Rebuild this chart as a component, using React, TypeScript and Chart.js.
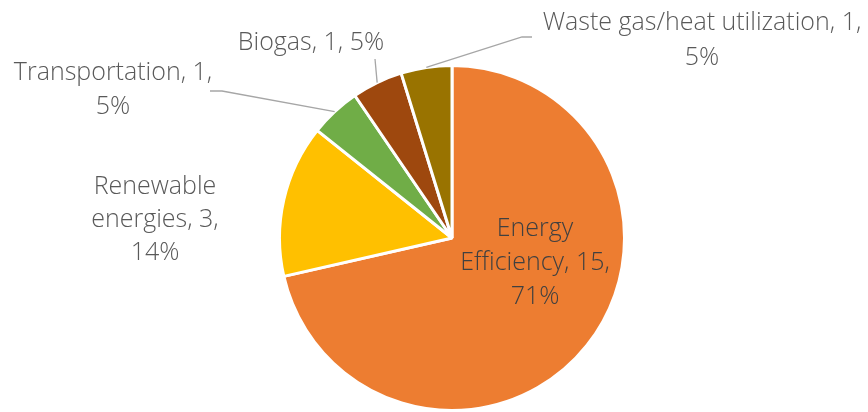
import React, { useEffect, useRef } from "react";
import { Chart, registerables } from "chart.js";

Chart.register(...registerables);

const categories = [
  "Energy Efficiency",
  "Renewable energies",
  "Transportation",
  "Biogas",
  "Waste gas/heat utilization",
];
const values = [15, 3, 1, 1, 1];
const percentLabels = ["71%", "14%", "5%", "5%", "5%"];
const colors = ["#ED7D31", "#FFC000", "#70AD47", "#9E480E", "#997300"];

// label text lines per slice
const labelLines = [
  ["Energy", "Efficiency, 15,", "71%"],
  ["Renewable", "energies, 3,", "14%"],
  ["Transportation, 1,", "5%"],
  ["Biogas, 1, 5%"],
  ["Waste gas/heat utilization, 1,", "5%"],
];

// label layout (center x, first line middle y, line gap, leader start points)
const labelLayout = [
  { x: 535, y: 229, gap: 34, color: "#404040", leader: null },
  { x: 155, y: 187, gap: 33, color: "#595959", leader: null },
  { x: 113, y: 73, gap: 34, color: "#595959", leader: [[210, 91], [222, 91]] },
  { x: 311, y: 43, gap: 33, color: "#595959", leader: [[375, 59]] },
  { x: 702, y: 23, gap: 35, color: "#595959", leader: [[532, 37], [522, 37]] },
];

const labelPlugin = {
  id: "sliceLabels",
  afterDatasetsDraw(chart: any) {
    const ctx = chart.ctx;
    const meta = chart.getDatasetMeta(0);
    ctx.save();
    meta.data.forEach((arc: any, i: number) => {
      const lay = labelLayout[i];
      if (lay.leader) {
        const mid = (arc.startAngle + arc.endAngle) / 2;
        const ex = arc.x + Math.cos(mid) * arc.outerRadius;
        const ey = arc.y + Math.sin(mid) * arc.outerRadius;
        ctx.beginPath();
        ctx.strokeStyle = "#A6A6A6";
        ctx.lineWidth = 1.3;
        lay.leader.forEach((p: number[], k: number) => {
          if (k === 0) ctx.moveTo(p[0], p[1]);
          else ctx.lineTo(p[0], p[1]);
        });
        ctx.lineTo(ex, ey);
        ctx.stroke();
      }
      ctx.fillStyle = lay.color;
      ctx.font = '300 25px "Open Sans"';
      ctx.textAlign = "center";
      ctx.textBaseline = "middle";
      labelLines[i].forEach((t, k) => {
        ctx.fillText(t, lay.x, lay.y + k * lay.gap);
      });
    });
    ctx.restore();
  },
};

export default function App() {
  const ref = useRef<HTMLCanvasElement>(null);
  useEffect(() => {
    document.body.style.margin = "0";
    const chart = new Chart(ref.current!, {
      type: "pie",
      data: {
        labels: categories,
        datasets: [
          {
            data: values,
            backgroundColor: colors,
            borderColor: "#FFFFFF",
            borderWidth: 3,
          },
        ],
      },
      options: {
        responsive: false,
        animation: false,
        layout: { padding: { left: 277, right: 241, top: 64, bottom: -2 } },
        plugins: {
          legend: { display: false },
          tooltip: { enabled: false },
        },
      },
      plugins: [labelPlugin],
    });
    return () => chart.destroy();
  }, []);
  return (
    <div style={{ width: 868, height: 412 }}>
      <canvas ref={ref} width={868} height={412} />
    </div>
  );
}
